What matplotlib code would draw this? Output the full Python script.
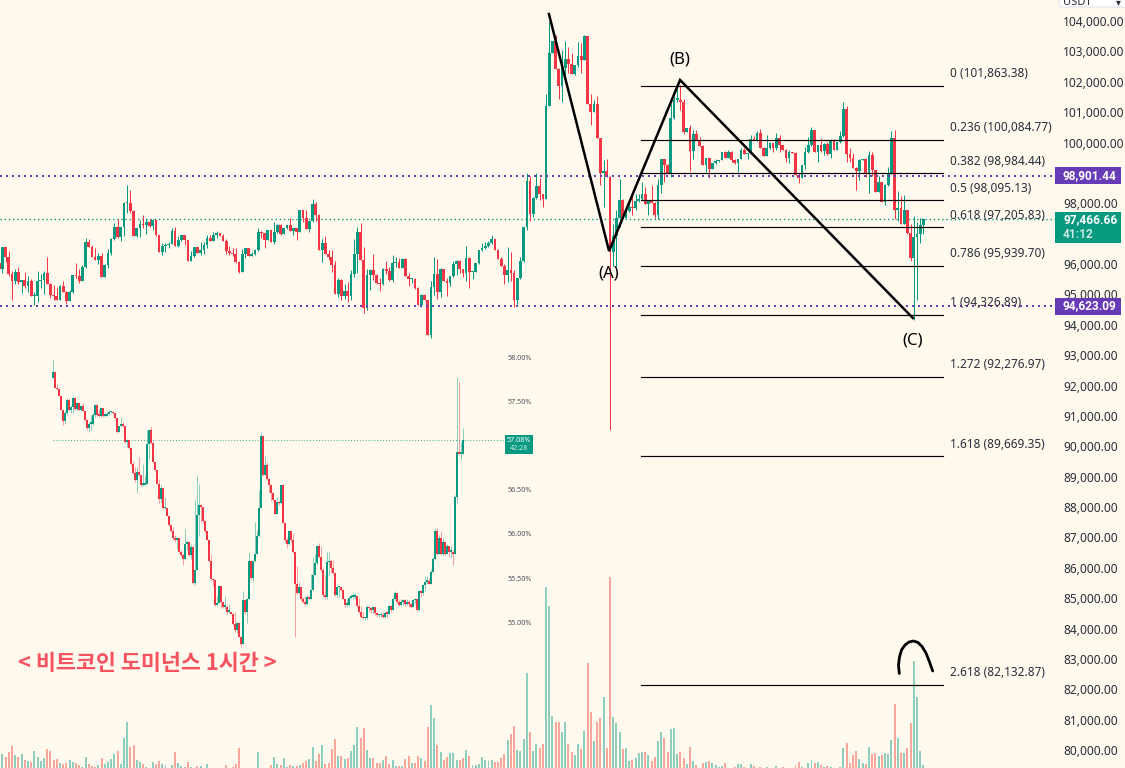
import matplotlib
matplotlib.use("Agg")
import matplotlib.pyplot as plt
from matplotlib.patches import Rectangle, FancyBboxPatch

# --- Colours ---
BG = "#FFF9EE"
GREEN = "#089981"
RED = "#F23645"
VOL_GREEN = "#8FCEBF"
VOL_RED = "#F8A59B"
PURPLE = "#673AB7"
TEXT = "#2A2E39"

# --- BTCUSDT candles (open of each bar is the previous close) ---
first_open = 96037
closes = [
    95828, 96554, 96235, 95663, 95432, 95729, 95399, 95465, 95267, 95432, 94937, 94937, 95432, 95465, 95696,
    95333, 94970, 94937, 94805, 95267, 95069, 94772, 95069, 95630, 95597, 95432, 95894, 96719, 96554, 96224,
    96125, 96257, 95564, 95960, 96356, 96818, 97214, 96884, 97214, 98006, 98006, 97742, 96917, 97181, 97313,
    97280, 97379, 97247, 97445, 96950, 96389, 96587, 96620, 96653, 97082, 96587, 96785, 96950, 96785, 96092,
    96257, 96554, 96356, 96455, 96620, 96851, 96752, 96950, 97016, 96917, 96752, 96422, 96356, 96323, 96059,
    95729, 96323, 96521, 96257, 96323, 96455, 97049, 97016, 96785, 97115, 96719, 97049, 97280, 96983, 97181,
    97280, 97082, 97181, 97049, 97775, 97511, 97148, 97412, 97973, 97610, 96455, 96686, 96323, 96224, 95960,
    95003, 95465, 94937, 95102, 94937, 95663, 96323, 97049, 96125, 94541, 95630, 95795, 95630, 95366, 95333,
    95828, 95762, 95465, 96026, 96059, 95861, 96158, 95597, 95498, 95498, 95201, 94640, 94970, 94805, 93650,
    95234, 95663, 95069, 95828, 95432, 95366, 95597, 95993, 96092, 95828, 95696, 96191, 95729, 95729, 96026,
    96455, 96521, 96587, 96686, 96818, 96455, 96158, 95927, 95630, 95795, 95696, 94805, 95531, 96092, 97214,
    98732, 97643, 98171, 98567, 98303, 98138, 101216, 102932, 103339, 102415, 101854, 102448, 102745, 102580, 102250,
    102547, 102844, 102712, 103504, 101260, 100996, 101260, 100138, 98994, 99049, 98862, 96387, 96937, 97520, 98092,
    97520, 97729, 97872, 97828, 98070, 98125, 98312, 97960, 98070, 98015, 97597, 98587, 99467, 99247, 98972,
    100820, 101414, 101414, 101337, 100347, 100490, 99715, 100276, 100078, 99880, 99253, 99484, 99121, 99319, 99385,
    99418, 99682, 99484, 99682, 99418, 99319, 99451, 99748, 99616, 99649, 100111, 100078, 100309, 99814, 99550,
    99814, 99979, 99814, 100144, 99913, 99748, 99484, 99682, 99649, 98923, 98824, 99253, 99682, 99913, 100408,
    99682, 99913, 99715, 99946, 99616, 100078, 99748, 100012, 100210, 101101, 99616, 99484, 99154, 99055, 99418,
    99451, 98956, 99583, 99088, 98362, 98692, 98032, 98593, 98989, 100144, 97768, 97834, 97306, 97768, 97009,
    96184, 96877, 96976, 97273, 97466,
]
highs = [
    96037, 96554, 96554, 96422, 95762, 95839, 95894, 95465, 95729, 95597, 95498, 95069, 95762, 95663, 95762,
    96224, 95366, 95300, 95234, 95300, 95432, 95102, 95135, 95630, 96026, 95828, 95960, 96851, 96818, 96620,
    96521, 96356, 96356, 95993, 96488, 96851, 97346, 97478, 97214, 98039, 98600, 98435, 97775, 97181, 97445,
    97610, 97478, 97478, 97478, 97445, 96950, 96686, 96686, 96719, 97181, 97214, 96917, 96950, 96950, 96785,
    96422, 96554, 96554, 96719, 96719, 96950, 96950, 97049, 97082, 97016, 96983, 96818, 96587, 96521, 96521,
    96092, 96488, 96521, 96521, 96389, 96488, 97181, 97082, 97016, 97115, 97115, 97379, 97313, 97313, 97181,
    97280, 97511, 97181, 97181, 97775, 97775, 97775, 97412, 98138, 98039, 97643, 96818, 96917, 96455, 96455,
    96092, 95531, 95498, 95333, 95399, 95795, 96818, 97214, 97346, 96554, 95828, 95828, 96323, 95663, 95531,
    95861, 96092, 95894, 96290, 96224, 96191, 96191, 96191, 95696, 95531, 95531, 95234, 95003, 95003, 94805,
    95432, 96224, 96158, 95861, 95828, 95531, 95597, 96092, 96125, 96125, 95828, 96587, 96224, 95762, 96026,
    96455, 96686, 96719, 96752, 96950, 96818, 96488, 96224, 95993, 96554, 96389, 95795, 95531, 96224, 97214,
    98996, 98897, 98204, 98996, 98831, 98303, 101612, 104000, 103339, 103537, 102448, 103042, 103339, 103152, 102932,
    102547, 103306, 103262, 103537, 103504, 101612, 101392, 101524, 100160, 99412, 99467, 98895, 97322, 97762, 98807,
    98147, 97872, 98037, 98257, 98312, 98312, 98697, 98532, 98070, 98587, 98048, 98807, 99467, 99467, 99280,
    101282, 101722, 101887, 101887, 101447, 100490, 100560, 100400, 100408, 100177, 99913, 99484, 99484, 99319, 99451,
    99418, 99682, 99715, 99748, 99715, 99451, 99451, 99814, 99814, 99649, 100243, 100210, 100375, 100441, 99847,
    100243, 100012, 99979, 100309, 100243, 99913, 99781, 99748, 99682, 99682, 98989, 99253, 99847, 100177, 100507,
    100408, 99913, 100144, 99979, 100012, 100111, 100111, 100045, 100375, 101332, 101200, 99814, 99649, 99187, 99451,
    99451, 99484, 99715, 99682, 99088, 98890, 98692, 98626, 99187, 100375, 100408, 98395, 98230, 98263, 97768,
    97306, 97570, 97372, 97504, 97500,
]
lows = [
    95828, 95707, 96070, 95597, 94805, 95333, 95333, 95036, 95201, 95069, 94937, 94640, 94739, 95201, 94997,
    95333, 94871, 94805, 94805, 94805, 95069, 94673, 94772, 95036, 95531, 95366, 95432, 95861, 96554, 96224,
    96125, 95993, 95564, 95564, 95861, 96290, 96785, 96851, 96752, 96917, 97665, 97676, 96917, 96884, 96884,
    97181, 96983, 97214, 97115, 96917, 96389, 96290, 96389, 96521, 96653, 96587, 96554, 96752, 96620, 96092,
    96092, 96224, 96356, 96290, 96323, 96521, 96752, 96752, 96851, 96917, 96752, 96323, 96290, 96257, 96026,
    95696, 95729, 96191, 96257, 96290, 96290, 96422, 96851, 96521, 96785, 96719, 96653, 97016, 96950, 96983,
    97148, 97082, 96950, 96785, 97049, 97379, 97148, 97049, 97379, 97412, 96455, 96059, 96323, 96125, 95729,
    95003, 94904, 94805, 94838, 94739, 94805, 95564, 95696, 96125, 94376, 94475, 95135, 95465, 95333, 95102,
    95300, 95663, 95432, 95399, 95894, 95861, 95861, 95597, 95267, 95366, 95168, 94640, 94574, 94805, 93650,
    93551, 94970, 94838, 94904, 95432, 94937, 95267, 95564, 95630, 95696, 95564, 95432, 95201, 95498, 95729,
    95993, 96422, 96488, 96554, 96653, 96455, 96158, 95927, 95333, 95399, 95432, 94574, 94673, 95498, 96059,
    97115, 97412, 97544, 98138, 98105, 97874, 98136, 101194, 102932, 102415, 101447, 101337, 102162, 102272, 102250,
    102217, 102470, 102272, 102712, 101260, 100567, 100996, 100138, 98587, 97872, 98862, 90535, 95947, 95892, 97212,
    97520, 97520, 97696, 97597, 97762, 98037, 98092, 97960, 97597, 98015, 97520, 97487, 98334, 98697, 98972,
    98862, 100787, 101337, 101062, 100270, 100347, 99060, 99467, 100078, 99880, 99253, 99022, 98824, 99121, 99286,
    99352, 99418, 99484, 99484, 99352, 99286, 99022, 99451, 99616, 99451, 99616, 100078, 100045, 99814, 99550,
    99550, 99781, 99682, 99748, 99682, 99748, 99352, 99319, 99649, 98923, 98659, 98824, 99121, 99649, 99880,
    99682, 99352, 99682, 99583, 99583, 99484, 99748, 99748, 99979, 100177, 99352, 99352, 99154, 98428, 98758,
    99418, 98857, 98329, 98890, 98362, 98362, 98032, 97933, 98560, 98956, 97471, 97405, 97306, 97306, 96976,
    96085, 94150, 94831, 96679, 96976,
]
# volume in bar heights, the base of the pane sits below the crop
volumes = [
    12, 14, 11, 16, 22, 13, 11, 14, 8, 7, 6, 17, 11, 7, 10, 19, 17, 8, 9, 5,
    4, 5, 8, 6, 5, 3, 1, 11, 4, 2, 1, 3, 10, 4, 6, 9, 14, 17, 4, 30,
    46, 21, 23, 8, 6, 4, 1, 0, 6, 4, 7, 4, 3, 0, 3, 16, 5, 2, 1, 6,
    1, 0, 2, 2, 0, 4, 0, 0, 0, 0, 0, 3, 0, 1, 4, 20, 0, 0, 0, 0,
    0, 16, 0, 0, 0, 3, 11, 4, 3, 10, 1, 3, 2, 2, 3, 5, 7, 9, 21, 7,
    14, 23, 4, 5, 19, 29, 12, 12, 9, 10, 17, 23, 41, 30, 40, 18, 10, 10, 5, 5,
    8, 12, 4, 8, 2, 2, 2, 9, 12, 5, 5, 12, 10, 7, 41, 63, 50, 23, 16, 8,
    11, 15, 15, 8, 8, 10, 18, 12, 3, 3, 4, 11, 8, 7, 8, 6, 6, 10, 14, 28,
    34, 42, 18, 17, 29, 95, 36, 17, 24, 20, 24, 181, 162, 52, 46, 46, 36, 46, 24, 16,
    13, 24, 19, 37, 105, 56, 27, 46, 50, 71, 20, 191, 51, 45, 36, 19, 20, 7, 8, 10,
    15, 16, 16, 13, 7, 11, 27, 36, 30, 16, 39, 40, 14, 16, 10, 4, 21, 7, 3, 0,
    5, 6, 7, 5, 3, 1, 2, 5, 0, 0, 1, 4, 4, 1, 0, 4, 2, 0, 1, 0,
    1, 0, 0, 2, 0, 1, 0, 0, 0, 3, 6, 1, 0, 5, 8, 5, 6, 3, 1, 2,
    1, 0, 0, 1, 20, 25, 5, 13, 17, 9, 5, 4, 21, 14, 15, 12, 13, 15, 14, 28,
    64, 30, 15, 15, 20, 45, 107, 71, 17, 3,
]

# --- Bitcoin dominance inset (%) ---
dom_first_open = 57.78
dom_closes = [
    57.85, 57.66, 57.65, 57.57, 57.42, 57.29, 57.38, 57.53, 57.42, 57.45, 57.55, 57.43, 57.49, 57.42, 57.46, 57.40,
    57.30, 57.21, 57.26, 57.26, 57.36, 57.47, 57.36, 57.35, 57.44, 57.35, 57.35, 57.37, 57.39, 57.39, 57.38, 57.32,
    57.16, 57.23, 57.26, 57.23, 57.05, 57.08, 56.98, 56.80, 56.70, 56.62, 56.71, 56.68, 56.57, 56.57, 56.58, 57.03,
    57.19, 57.04, 56.83, 56.73, 56.58, 56.41, 56.53, 56.30, 56.30, 56.22, 56.11, 56.04, 55.96, 55.94, 55.96, 55.81,
    55.77, 55.73, 55.90, 55.92, 55.77, 55.86, 55.46, 55.60, 56.23, 56.34, 56.32, 56.16, 56.04, 55.94, 55.71, 55.50,
    55.49, 55.21, 55.23, 55.42, 55.24, 55.19, 55.19, 55.13, 55.13, 55.11, 54.99, 54.92, 55.00, 54.85, 54.77, 55.26,
    55.13, 55.28, 55.71, 55.51, 55.70, 55.79, 55.99, 56.30, 57.12, 56.68, 56.79, 56.63, 56.57, 56.47, 56.40, 56.24,
    56.37, 56.36, 56.57, 56.14, 55.94, 55.90, 56.04, 55.94, 55.81, 55.45, 55.34, 55.41, 55.28, 55.24, 55.22, 55.30,
    55.28, 55.38, 55.55, 55.68, 55.87, 55.75, 55.60, 55.32, 55.30, 55.69, 55.71, 55.63, 55.57, 55.32, 55.41, 55.41,
    55.38, 55.28, 55.21, 55.21, 55.29, 55.30, 55.30, 55.31, 55.20, 55.13, 55.07, 55.06, 55.06, 55.18, 55.17, 55.15,
    55.18, 55.12, 55.09, 55.09, 55.09, 55.07, 55.12, 55.11, 55.20, 55.15, 55.28, 55.34, 55.24, 55.21, 55.24, 55.26,
    55.22, 55.24, 55.22, 55.19, 55.26, 55.27, 55.15, 55.36, 55.34, 55.43, 55.47, 55.48, 55.45, 55.58, 55.73, 56.04,
    55.78, 55.96, 55.79, 55.92, 55.78, 55.87, 55.81, 55.81, 55.79, 56.43, 56.94, 56.92, 56.92, 57.08,
]
dom_highs = [
    57.99, 57.81, 57.72, 57.66, 57.57, 57.42, 57.40, 57.55, 57.55, 57.47, 57.57, 57.55, 57.51, 57.49, 57.47, 57.49,
    57.40, 57.30, 57.28, 57.36, 57.38, 57.48, 57.46, 57.43, 57.45, 57.44, 57.38, 57.40, 57.41, 57.40, 57.40, 57.38,
    57.32, 57.23, 57.34, 57.29, 57.23, 57.09, 57.08, 56.98, 56.84, 56.77, 56.77, 56.88, 56.68, 56.80, 56.68, 57.19,
    57.20, 57.23, 57.05, 56.83, 56.73, 56.63, 56.57, 56.53, 56.43, 56.30, 56.22, 56.11, 56.09, 56.00, 55.98, 55.96,
    55.83, 55.79, 56.07, 55.94, 55.92, 55.90, 55.87, 56.41, 56.68, 56.58, 56.35, 56.32, 56.17, 56.04, 55.95, 55.79,
    55.51, 55.50, 55.32, 55.43, 55.42, 55.24, 55.31, 55.21, 55.21, 55.13, 55.11, 55.13, 55.01, 55.00, 54.85, 55.36,
    55.26, 55.28, 55.81, 55.71, 55.71, 56.15, 56.06, 56.51, 57.17, 57.12, 56.89, 56.83, 56.64, 56.58, 56.49, 56.40,
    56.43, 56.38, 56.57, 56.57, 56.14, 55.97, 56.05, 56.03, 56.02, 55.81, 55.65, 55.47, 55.41, 55.30, 55.31, 55.32,
    55.30, 55.56, 55.75, 55.79, 55.89, 55.91, 55.87, 55.64, 55.54, 55.81, 55.81, 55.72, 55.72, 55.57, 55.42, 55.42,
    55.42, 55.39, 55.28, 55.28, 55.31, 55.33, 55.34, 55.34, 55.31, 55.29, 55.20, 55.13, 55.07, 55.21, 55.19, 55.19,
    55.20, 55.19, 55.13, 55.11, 55.13, 55.13, 55.13, 55.14, 55.21, 55.21, 55.30, 55.37, 55.34, 55.26, 55.27, 55.28,
    55.28, 55.27, 55.26, 55.23, 55.27, 55.28, 55.27, 55.37, 55.38, 55.45, 55.53, 55.53, 55.51, 55.62, 55.75, 56.08,
    56.08, 56.00, 56.04, 55.96, 55.92, 55.90, 55.87, 55.87, 55.83, 56.45, 57.79, 57.74, 57.04, 57.21,
]
dom_lows = [
    57.78, 57.66, 57.64, 57.57, 57.41, 57.24, 57.26, 57.36, 57.41, 57.38, 57.38, 57.42, 57.41, 57.41, 57.40, 57.40,
    57.29, 57.19, 57.17, 57.19, 57.24, 57.34, 57.35, 57.34, 57.34, 57.34, 57.34, 57.35, 57.36, 57.38, 57.37, 57.31,
    57.15, 57.16, 57.22, 57.22, 57.04, 57.00, 56.97, 56.79, 56.69, 56.60, 56.47, 56.67, 56.55, 56.55, 56.57, 56.85,
    56.85, 57.03, 56.82, 56.72, 56.58, 56.36, 56.36, 56.29, 56.29, 56.21, 56.10, 56.03, 55.94, 55.92, 55.84, 55.80,
    55.76, 55.66, 55.72, 55.83, 55.76, 55.73, 55.45, 55.43, 55.60, 55.99, 56.15, 56.14, 56.02, 55.94, 55.70, 55.49,
    55.42, 55.20, 55.20, 55.23, 55.17, 55.17, 55.16, 55.11, 55.12, 55.10, 54.98, 54.90, 54.89, 54.84, 54.73, 54.77,
    55.11, 55.00, 55.28, 55.49, 55.47, 55.69, 55.78, 55.98, 56.51, 56.67, 56.78, 56.62, 56.47, 56.38, 56.38, 56.24,
    56.24, 56.34, 56.35, 56.13, 55.92, 55.85, 55.89, 55.92, 55.80, 54.85, 55.33, 55.33, 55.26, 55.23, 55.20, 55.21,
    55.28, 55.28, 55.38, 55.53, 55.66, 55.74, 55.59, 55.30, 55.27, 55.28, 55.53, 55.57, 55.56, 55.31, 55.30, 55.30,
    55.36, 55.27, 55.19, 55.19, 55.20, 55.27, 55.28, 55.28, 55.19, 55.12, 55.06, 55.05, 55.04, 55.05, 55.13, 55.12,
    55.11, 55.09, 55.07, 55.07, 55.07, 55.06, 55.06, 55.07, 55.13, 55.13, 55.15, 55.26, 55.23, 55.20, 55.20, 55.21,
    55.20, 55.21, 55.19, 55.17, 55.18, 55.22, 55.14, 55.14, 55.30, 55.32, 55.36, 55.45, 55.44, 55.44, 55.57, 55.72,
    55.77, 55.79, 55.77, 55.77, 55.77, 55.78, 55.75, 55.74, 55.66, 55.78, 56.36, 56.92, 56.85, 56.92,
]
dom_ticks = [58.0, 57.5, 56.5, 56.0, 55.5, 55.0]
dom_last = 57.08

# --- Levels and annotations ---
fib_ratios = ["0", "0.236", "0.382", "0.5", "0.618", "0.786", "1", "1.272", "1.618", "2.618"]
fib_prices = [101863.38, 100084.77, 98984.44, 98095.13, 97205.83, 95939.70, 94326.89, 92276.97, 89669.35, 82132.87]
wave_bars = [171.9, 190.7, 212.9, 285.7]
wave_prices = [104230, 96428, 102058, 94222]
wave_labels = ["(A)", "(B)", "(C)"]
resistance = 98901.44
support = 94623.09
last_price = 97466.66
price_ticks = list(range(80000, 105000, 1000))

# --- Pixel layout ---
W, H = 1125, 768
BAR_PX = 3.198
BAR0_PX = -0.8
PRICE_PX = 0.030375
PRICE_TOP = 104000 + 21 / PRICE_PX
DOM_STEP_PX = 2.0
DOM_X0_PX = 53.3
DOM_PCT_PX = 88.33
DOM_Y58_PX = 358.3


def px_to_bar(x):
    return (x - BAR0_PX) / BAR_PX


def add_axes(fig):
    ax = fig.add_axes([0, 0, 1, 1])
    ax.patch.set_alpha(0)
    for side in ax.spines.values():
        side.set_visible(False)
    ax.set_xticks([])
    ax.set_yticks([])
    return ax


def draw_candles(ax, xs, first, cls, his, los, width, wick_lw, min_body, wick_alpha=1.0):
    """Draws wicks and bodies, each bar opening at the previous close."""
    opens = [first] + cls[:-1]
    colors = [GREEN if c >= o else RED for o, c in zip(opens, cls)]
    tops = [max(h, o, c) for h, o, c in zip(his, opens, cls)]
    bots = [min(l, o, c) for l, o, c in zip(los, opens, cls)]
    wicks = ax.vlines(xs, bots, tops, colors=colors, lw=wick_lw, alpha=wick_alpha, zorder=2)
    wicks.set_snap(True)
    bottoms = [min(o, c) for o, c in zip(opens, cls)]
    heights = [max(abs(c - o), min_body) for o, c in zip(opens, cls)]
    ax.bar(xs, heights, width=width, bottom=bottoms, color=colors, linewidth=0, zorder=3)


def main():
    fig = plt.figure(figsize=(W / 100, H / 100), dpi=100, facecolor=BG)

    # volume pane
    vol_ax = add_axes(fig)
    vol_ax.set_xlim(px_to_bar(0), px_to_bar(W))
    vol_ax.set_ylim(0, H)
    opens = [first_open] + closes[:-1]
    vol_colors = [VOL_GREEN if c >= o else VOL_RED for o, c in zip(opens, closes)]
    vol_ax.bar(range(len(volumes)), volumes, width=0.62, color=vol_colors, linewidth=0)

    # dominance inset, a pasted chart
    dom_ax = add_axes(fig)
    dom_ax.set_xlim(-DOM_X0_PX / DOM_STEP_PX, (W - DOM_X0_PX) / DOM_STEP_PX)
    dom_ax.set_ylim(58 - (H - DOM_Y58_PX) / DOM_PCT_PX, 58 + DOM_Y58_PX / DOM_PCT_PX)
    dom_xs = list(range(len(dom_closes)))
    draw_candles(dom_ax, dom_xs, dom_first_open, dom_closes, dom_highs, dom_lows, 1.0, 0.72, 0.015, wick_alpha=0.45)
    dom_right = (505 - DOM_X0_PX) / DOM_STEP_PX
    dom_ax.plot([0, dom_right], [dom_last, dom_last], color=GREEN, lw=0.7, ls=(0, (1, 2)), alpha=0.8, zorder=1)
    for tick in dom_ticks:
        dom_ax.text((508 - DOM_X0_PX) / DOM_STEP_PX, tick, f"{tick:.2f}%", fontsize=5.2, color="#50535E",
                    va="center", ha="left", family="Noto Sans")

    # main price pane
    ax = add_axes(fig)
    ax.set_xlim(px_to_bar(0), px_to_bar(W))
    ax.set_ylim(PRICE_TOP - H / PRICE_PX, PRICE_TOP)
    xs = list(range(len(closes)))
    draw_candles(ax, xs, first_open, closes, highs, lows, 0.85, 0.72, 45)

    right = px_to_bar(1056)
    ax.plot([px_to_bar(0), right], [resistance, resistance], color=PURPLE, lw=1.44, ls=(0, (1, 2)), zorder=4)
    ax.plot([px_to_bar(0), right], [support, support], color=PURPLE, lw=1.44, ls=(0, (1, 2)), zorder=4)
    ax.plot([px_to_bar(0), right], [last_price, last_price], color=GREEN, lw=1.0, ls=(0, (1, 2)), zorder=1)

    # fibonacci levels
    for ratio, level in zip(fib_ratios, fib_prices):
        ax.plot([px_to_bar(641), px_to_bar(943)], [level, level], color="black", lw=0.85, zorder=5)
        ax.annotate(f"{ratio} ({level:,.2f})", xy=(px_to_bar(950), level), xytext=(0, 8.8),
                    textcoords="offset points", fontsize=8.5, color=TEXT, va="center", ha="left",
                    family="Noto Sans", zorder=6)

    # ABC wave
    ax.plot(wave_bars, wave_prices, color="black", lw=1.8, solid_joinstyle="miter", zorder=6)
    for label, bar, price, dy in zip(wave_labels, wave_bars[1:], wave_prices[1:], [-16.5, 15, -16]):
        ax.annotate(label, xy=(bar, price), xytext=(0, dy), textcoords="offset points", fontsize=12,
                    color="black", ha="center", va="center", family="Noto Sans", zorder=6)

    # price scale
    ax.set_yticks(price_ticks)
    ax.set_yticklabels([f"{p:,.2f}" for p in price_ticks], fontsize=8.6, color=TEXT, family="Noto Sans")
    ax.yaxis.tick_right()
    ax.tick_params(axis="y", length=0, pad=-44.5)

    # overlay in pixels for the scale tags, the title and the pen stroke
    top = fig.add_axes([0, 0, 1, 1])
    top.patch.set_alpha(0)
    top.set_xlim(0, W)
    top.set_ylim(H, 0)
    top.axis("off")

    for text, y in [("98,901.44", 175.5), ("94,623.09", 306)]:
        top.add_patch(Rectangle((1055, y - 8.5), 66, 17, color=PURPLE, linewidth=0))
        top.text(1089, y, text, color="white", fontsize=8.6, fontweight="bold", ha="center", va="center",
                 family="Roboto")
    top.add_patch(Rectangle((1055, 212), 66, 31, color=GREEN, linewidth=0))
    top.text(1063, 220, "97,466.66", color="white", fontsize=8.6, fontweight="bold", ha="left", va="center",
             family="Roboto")
    top.text(1063, 234.5, "41:12", color="#C5E8E1", fontsize=8.6, fontweight="bold", ha="left", va="center",
             family="Roboto")

    top.add_patch(Rectangle((505, 435), 28, 19, color=GREEN, linewidth=0))
    top.text(519, 440, f"{dom_last:.2f}%", color="white", fontsize=5.2, ha="center", va="center", family="Noto Sans")
    top.text(519, 449, "42:28", color="#C5E8E1", fontsize=5.2, ha="center", va="center", family="Noto Sans")

    top.text(18, 664, "< 비트코인 도미넌스 1시간 >", color="#F7525F", fontsize=15.7, fontweight="bold",
             ha="left", va="center", family=["Noto Sans CJK KR", "DejaVu Sans"])

    pen_x = [899.3, 898.5, 899.5, 901.5, 905, 909, 913.5, 918, 922, 926, 929.5, 932.7]
    pen_y = [673.5, 665, 657, 650, 645, 642, 641, 642.5, 646.5, 653, 662, 671]
    top.plot(pen_x, pen_y, color="black", lw=2.0, solid_capstyle="round", solid_joinstyle="round")

    top.add_patch(FancyBboxPatch((1059, -12), 70, 19, boxstyle="round,pad=0,rounding_size=3",
                                 facecolor="white", edgecolor="#E0E3EB", linewidth=0.8))
    top.text(1063, 2.5, "USDT", fontsize=8, color=TEXT, ha="left", va="center", family="Noto Sans", clip_on=True)
    top.text(1118, 2, "▾", fontsize=7, color=TEXT, ha="center", va="center", clip_on=True)

    fig.savefig("out.png", dpi=100, facecolor=BG)


if __name__ == "__main__":
    main()
